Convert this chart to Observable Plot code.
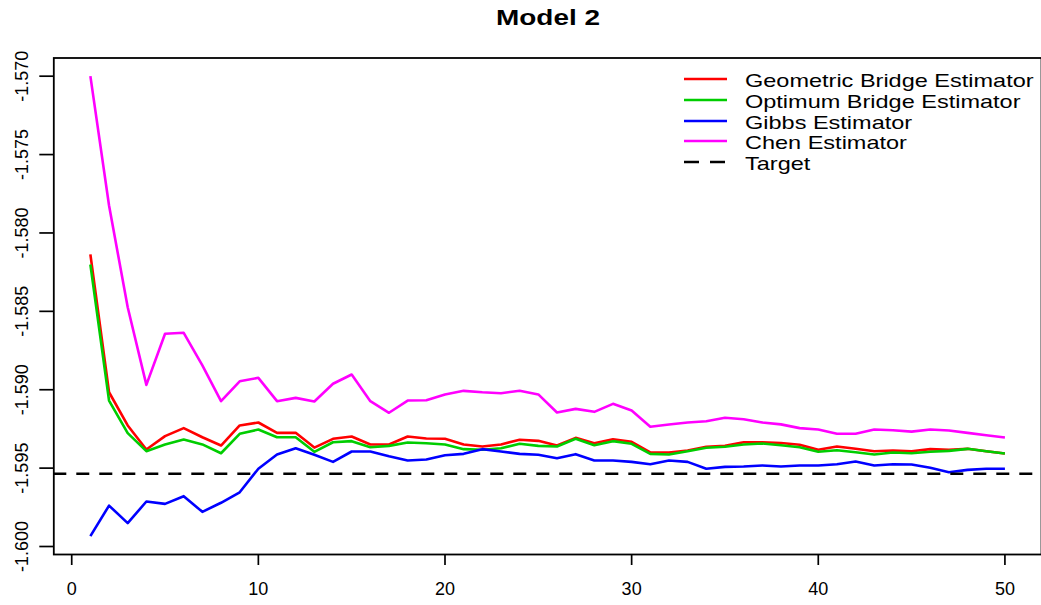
<!DOCTYPE html>
<html>
<head>
<meta charset="utf-8">
<script src="https://cdn.jsdelivr.net/npm/d3@7"></script>
<script src="https://cdn.jsdelivr.net/npm/@observablehq/plot@0.6"></script>
<style>
html,body{margin:0;padding:0;background:#fff;overflow:hidden;}
body{font-family:"Liberation Sans",Arial,Helvetica,sans-serif;color:#000;}
#wrap{position:relative;width:1041px;height:605px;overflow:hidden;}
#title{position:absolute;left:547.5px;top:4px;height:28px;line-height:28px;font-size:22px;font-weight:bold;transform:translateX(-50%) scaleX(1.27);white-space:nowrap;}
#plot{position:absolute;left:0;top:36px;}
#legend{position:absolute;left:684px;top:0;}
.row{position:absolute;left:0;height:20px;display:flex;align-items:center;white-space:nowrap;}
.row svg{width:43px;height:20px;display:block;}
.row span{margin-left:18px;font-size:18.5px;line-height:20px;position:relative;top:2px;transform:scaleX(1.27);transform-origin:left center;}
</style>
</head>
<body>
<div id="wrap">
  <div id="title">Model 2</div>
  <div id="plot"></div>
  <div id="legend"></div>
</div>
<script>
const titleText = "Model 2";
const iteration = [1,2,3,4,5,6,7,8,9,10,11,12,13,14,15,16,17,18,19,20,21,22,23,24,25,26,27,28,29,30,31,32,33,34,35,36,37,38,39,40,41,42,43,44,45,46,47,48,49,50];

const geometric = [-1.58137,-1.59016,-1.59228,-1.59381,-1.59296,-1.59245,-1.59303,-1.59356,-1.59228,-1.59209,
  -1.59275,-1.59275,-1.59369,-1.59313,-1.59298,-1.59349,-1.59349,-1.59298,-1.59311,-1.59313,
  -1.59349,-1.59362,-1.59349,-1.59319,-1.59326,-1.59356,-1.59307,-1.59341,-1.59316,-1.59332,
  -1.59399,-1.59400,-1.59388,-1.59364,-1.59358,-1.59335,-1.59335,-1.59340,-1.59351,-1.59383,
  -1.59362,-1.59377,-1.59392,-1.59388,-1.59392,-1.59379,-1.59383,-1.59377,-1.59392,-1.59407];

const optimum = [-1.58201,-1.59069,-1.59277,-1.59392,-1.59349,-1.59318,-1.59349,-1.59405,-1.59281,-1.59254,
  -1.59303,-1.59303,-1.59396,-1.59335,-1.59328,-1.59367,-1.59358,-1.59337,-1.59341,-1.59349,
  -1.59379,-1.59383,-1.59373,-1.59345,-1.59358,-1.59362,-1.59313,-1.59354,-1.59328,-1.59345,
  -1.59409,-1.59413,-1.59392,-1.59370,-1.59364,-1.59349,-1.59343,-1.59354,-1.59367,-1.59396,
  -1.59386,-1.59399,-1.59413,-1.59400,-1.59405,-1.59396,-1.59390,-1.59377,-1.59392,-1.59407];

const gibbs = [-1.59934,-1.59739,-1.59851,-1.59713,-1.59728,-1.59679,-1.59779,-1.59721,-1.59654,-1.59504,
  -1.59413,-1.59373,-1.59415,-1.59460,-1.59394,-1.59394,-1.59424,-1.59451,-1.59445,-1.59418,
  -1.59409,-1.59379,-1.59394,-1.59409,-1.59415,-1.59437,-1.59411,-1.59451,-1.59451,-1.59460,
  -1.59475,-1.59451,-1.59460,-1.59504,-1.59492,-1.59490,-1.59483,-1.59490,-1.59483,-1.59483,
  -1.59475,-1.59458,-1.59483,-1.59475,-1.59477,-1.59498,-1.59526,-1.59511,-1.59504,-1.59504];

const chen = [-1.57000,-1.57825,-1.58474,-1.58969,-1.58643,-1.58637,-1.58845,-1.59073,-1.58946,-1.58924,
  -1.59073,-1.59052,-1.59075,-1.58962,-1.58903,-1.59073,-1.59147,-1.59069,-1.59067,-1.59030,
  -1.59007,-1.59016,-1.59022,-1.59007,-1.59030,-1.59145,-1.59122,-1.59141,-1.59090,-1.59133,
  -1.59236,-1.59222,-1.59209,-1.59201,-1.59179,-1.59188,-1.59209,-1.59221,-1.59245,-1.59254,
  -1.59281,-1.59281,-1.59254,-1.59258,-1.59267,-1.59254,-1.59260,-1.59275,-1.59290,-1.59305];

const target = -1.59536;

const seriesNames = ["Geometric Bridge Estimator","Optimum Bridge Estimator","Gibbs Estimator","Chen Estimator"];
const seriesColors = ["#FF0000","#00CD00","#0000FF","#FF00FF"];
const targetName = "Target";

const xTicks = [0,10,20,30,40,50];
const yTicks = [-1.600,-1.595,-1.590,-1.585,-1.580,-1.575,-1.570];

const seriesValues = [geometric, optimum, gibbs, chen];
const rows = [];
seriesValues.forEach((vals, s) => vals.forEach((v, i) => rows.push({x: iteration[i], y: v, series: seriesNames[s]})));

document.getElementById("title").textContent = titleText;

const chart = Plot.plot({
  width: 1041,
  height: 569,
  marginLeft: 53.3,
  marginRight: 0,
  marginTop: 21.5,
  marginBottom: 51,
  style: {fontFamily: "'Liberation Sans', Arial, sans-serif", fontSize: "18px", color: "black", background: "white", overflow: "visible"},
  x: {domain: [-0.96, 51.96]},
  y: {domain: [-1.60051, -1.56884]},
  color: {domain: seriesNames, range: seriesColors},
  marks: [
    Plot.line(rows, {x: "x", y: "y", z: "series", stroke: "series", strokeWidth: 2.6, strokeLinejoin: "round", strokeLinecap: "butt"}),
    Plot.ruleY([target], {stroke: "black", strokeWidth: 2.6, strokeDasharray: "13,10"}),
    Plot.frame({stroke: "black", strokeWidth: 1.8}),
    Plot.axisX(xTicks, {tickSize: 11, tickPadding: 17, strokeWidth: 1.7, label: null, tickFormat: d => String(d), fontSize: 18}),
    Plot.axisY(yTicks, {tickSize: 14, strokeWidth: 1.7, label: null, tickFormat: () => ""}),
    Plot.text(yTicks, {y: d => d, text: d => d.toFixed(3), frameAnchor: "left", rotate: -90, dx: -31.3, textAnchor: "middle", lineAnchor: "middle", fontSize: 18, fill: "black"})
  ]
});
document.getElementById("plot").appendChild(chart);

// legend
const legend = document.getElementById("legend");
const legendItems = seriesNames.map((n, i) => ({name: n, color: seriesColors[i], dash: null}))
  .concat([{name: targetName, color: "black", dash: "15,11"}]);
const rowCenters = [79, 100, 120.7, 141, 161.7];
legendItems.forEach((item, i) => {
  const row = document.createElement("div");
  row.className = "row";
  row.style.top = (rowCenters[i] - 10) + "px";
  row.innerHTML = `<svg viewBox="0 0 43 20"><line x1="0" y1="10" x2="43" y2="10" stroke="${item.color}" stroke-width="2.6" ${item.dash ? `stroke-dasharray="${item.dash}"` : ""}/></svg><span></span>`;
  row.querySelector("span").textContent = item.name;
  legend.appendChild(row);
});
</script>
</body>
</html>
